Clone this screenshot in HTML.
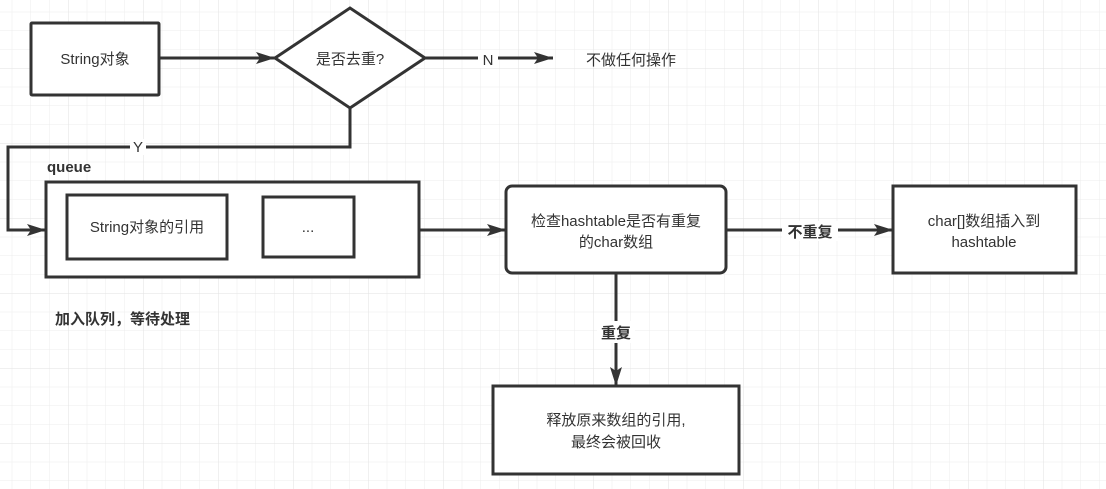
<!DOCTYPE html>
<html><head><meta charset="utf-8"><style>
body{margin:0;background:#fff}
svg{display:block}
text{font-family:"Liberation Sans","Noto Sans CJK SC",sans-serif;fill:#333}
</style></head><body>
<svg width="1106" height="489" viewBox="0 0 1106 489" xmlns="http://www.w3.org/2000/svg">
<defs>
<pattern id="g" x="-7" y="-7" width="18.75" height="18.75" patternUnits="userSpaceOnUse">
<path d="M0 0H18.75M0 0V18.75" stroke="#ececec" stroke-width="1" fill="none"/>
</pattern>
<pattern id="G" x="-7" y="-7" width="75" height="75" patternUnits="userSpaceOnUse">
<path d="M0 0H75M0 0V75" stroke="#e2e2e2" stroke-width="1" fill="none"/>
</pattern>
<marker id="b" markerWidth="20" markerHeight="14" refX="19" refY="7" orient="auto" markerUnits="userSpaceOnUse">
<path d="M0 1L19 7L0 13L4 7z" fill="#333"/>
</marker>
</defs>
<rect width="1106" height="489" fill="url(#g)"/>
<rect width="1106" height="489" fill="url(#G)"/>
<g stroke="#333" stroke-width="3" fill="#fff">
<rect x="31" y="23" width="128" height="72" rx="1"/>
<polygon points="275,58 350,8 425,58 350,108"/>
<rect x="46" y="182" width="373" height="95"/>
<rect x="67" y="195" width="160" height="64"/>
<rect x="263" y="197" width="91" height="60"/>
<rect x="506" y="186" width="220" height="87" rx="6"/>
<rect x="893" y="186" width="183" height="87"/>
<rect x="493" y="386" width="246" height="88"/>
</g>
<g stroke="#333" stroke-width="3" fill="none">
<path d="M159 58H275" marker-end="url(#b)"/>
<path d="M425 58H553" marker-end="url(#b)"/>
<path d="M350 108V147H8V230H46" marker-end="url(#b)"/>
<path d="M419 230H506" marker-end="url(#b)"/>
<path d="M726 230H893" marker-end="url(#b)"/>
<path d="M616 273V386" marker-end="url(#b)"/>
</g>
<rect x="478" y="50" width="20" height="18" fill="#fff"/>
<text x="488" y="65" font-size="15" text-anchor="middle">N</text>
<rect x="130" y="139" width="16" height="16" fill="#fff"/>
<text x="138" y="152" font-size="15" text-anchor="middle">Y</text>
<rect x="782" y="221" width="56" height="20" fill="#fff"/>
<text x="810" y="237" font-size="15" font-weight="bold" text-anchor="middle">不重复</text>
<rect x="597" y="321" width="38" height="22" fill="#fff"/>
<text x="616" y="338" font-size="15" font-weight="bold" text-anchor="middle">重复</text>
<g font-size="15" text-anchor="middle">
<text x="95" y="64">String对象</text>
<text x="350" y="64">是否去重?</text>
<text x="631" y="65">不做任何操作</text>
<text x="147" y="232">String对象的引用</text>
<text x="308" y="232">...</text>
<text x="616" y="226">检查hashtable是否有重复</text>
<text x="616" y="247">的char数组</text>
<text x="984" y="226">char[]数组插入到</text>
<text x="984" y="247">hashtable</text>
<text x="616" y="425">释放原来数组的引用,</text>
<text x="616" y="447">最终会被回收</text>
</g>
<text x="47" y="172" font-size="15" font-weight="bold">queue</text>
<text x="55" y="324" font-size="15" font-weight="bold">加入队列，等待处理</text>
</svg>
</body></html>
